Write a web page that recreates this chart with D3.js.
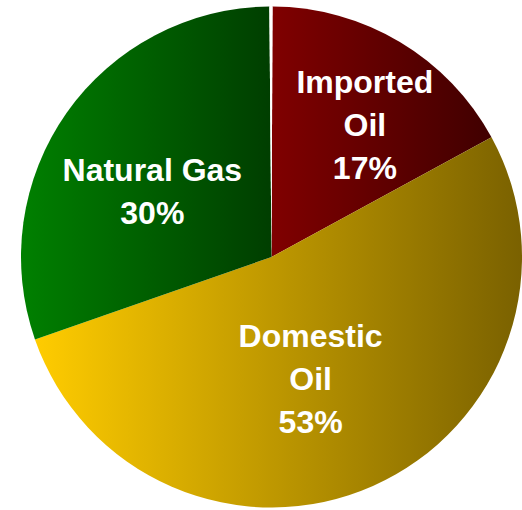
<!DOCTYPE html>
<html>
<head>
<meta charset="utf-8">
<script src="https://cdn.jsdelivr.net/npm/d3@7"></script>
<style>
html,body{margin:0;padding:0;background:#fff;}
svg{display:block;}
</style>
</head>
<body>
<svg id="chart" width="522" height="510"></svg>
<script>
// Data
const categories = ["Imported Oil", "Domestic Oil", "Natural Gas", "Other"];
const values = [17.0, 52.6, 30.2, 0.2];
const labelLines = [["Imported", "Oil", "17%"], ["Domestic", "Oil", "53%"], ["Natural Gas", "30%"], []];
const colorsLight = ["#800000", "#ffcc00", "#008000", "#ffffff"];
const colorsDark = ["#400000", "#7a6100", "#003e00", "#ffffff"];
const labelAngleDeg = [35.2, 162.2, 298.8, 0];
const labelRadius = [162, 128, 136, 0];

const width = 522, height = 510;
const cx = 271.5, cy = 257, R = 250.5;
const startOffset = 0.23 * Math.PI / 180;

const svg = d3.select("#chart");
const defs = svg.append("defs");
const g = svg.append("g").attr("transform", `translate(${cx},${cy})`);

const pie = d3.pie().sort(null).value(d => d)
  .startAngle(startOffset).endAngle(startOffset + 2 * Math.PI);
const arcs = pie(values);
const arc = d3.arc().innerRadius(0).outerRadius(R);

arcs.forEach((a, i) => {
  const grad = defs.append("linearGradient")
    .attr("id", "grad" + i)
    .attr("x1", "0%").attr("y1", "0%").attr("x2", "100%").attr("y2", "0%");
  grad.append("stop").attr("offset", "0%").attr("stop-color", colorsLight[i]);
  grad.append("stop").attr("offset", "100%").attr("stop-color", colorsDark[i]);
});

g.selectAll("path.slice").data(arcs).enter().append("path")
  .attr("class", "slice")
  .attr("d", arc)
  .attr("fill", (d, i) => `url(#grad${i})`);

const lineH = 43, capHalf = 11.5;
arcs.forEach((a, i) => {
  const lines = labelLines[i];
  if (!lines.length) return;
  const ang = labelAngleDeg[i] * Math.PI / 180;
  const lx = labelRadius[i] * Math.sin(ang);
  const ly = -labelRadius[i] * Math.cos(ang);
  const t = g.append("text")
    .attr("text-anchor", "middle")
    .attr("fill", "#ffffff")
    .attr("font-family", "Liberation Sans, Arial, sans-serif")
    .attr("font-weight", "bold")
    .attr("font-size", 32);
  lines.forEach((ln, k) => {
    t.append("tspan")
      .attr("x", lx)
      .attr("y", ly + (k - (lines.length - 1) / 2) * lineH + capHalf)
      .text(ln);
  });
});
</script>
</body>
</html>
